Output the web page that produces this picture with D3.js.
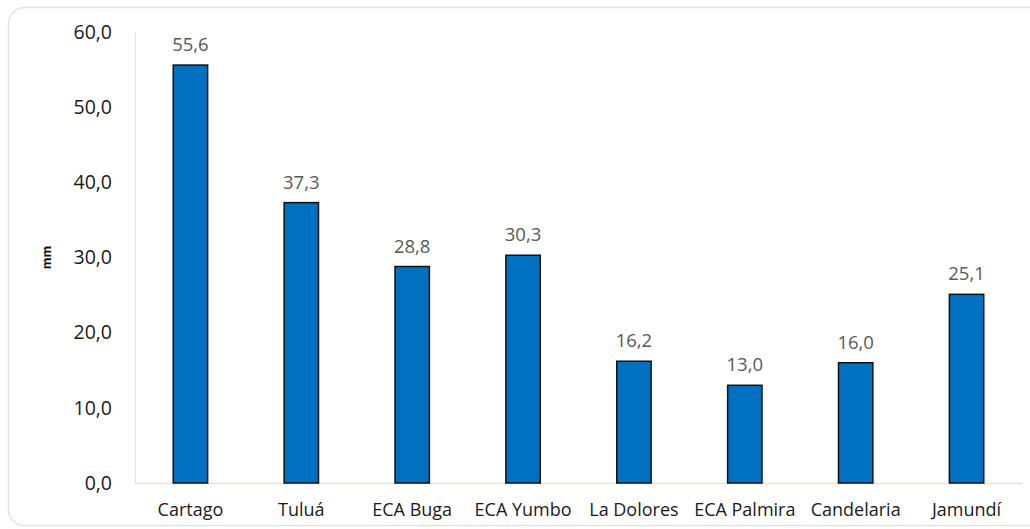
<!DOCTYPE html>
<html>
<head>
<meta charset="utf-8">
<script src="https://cdn.jsdelivr.net/npm/d3@7"></script>
<style>
  body { margin: 0; background: #fff; }
  svg { display: block; }
</style>
</head>
<body>
<script>
// data
var stations = ['Cartago', 'Tuluá', 'ECA Buga', 'ECA Yumbo', 'La Dolores', 'ECA Palmira', 'Candelaria', 'Jamundí'];
var rainfall = [55.6, 37.3, 28.8, 30.3, 16.2, 13.0, 16.0, 25.1];
var yTicks = [0, 10, 20, 30, 40, 50, 60];

var W = 1030, H = 529;
var margin = {left: 135, right: 8, top: 32, bottom: 46};

var fmt = function(v) { return v.toFixed(1).replace('.', ','); };

var svg = d3.select('body').append('svg')
  .attr('width', W)
  .attr('height', H);

// outer frame
svg.append('rect')
  .attr('x', 8.5).attr('y', 7.5)
  .attr('width', W + 10).attr('height', 518)
  .attr('rx', 16)
  .attr('fill', '#fff')
  .attr('stroke', '#e3e3e3')
  .attr('stroke-width', 1.5);

var x = d3.scaleBand()
  .domain(stations)
  .range([margin.left, W - margin.right])
  .paddingInner(0.69)
  .paddingOuter(0.345);

var y = d3.scaleLinear()
  .domain([0, 60])
  .range([H - margin.bottom, margin.top]);

// axis lines
svg.append('line')
  .attr('x1', margin.left + 0.5).attr('x2', margin.left + 0.5)
  .attr('y1', y(60)).attr('y2', y(0))
  .attr('stroke', '#e6e1d8').attr('stroke-width', 1);
svg.append('line')
  .attr('x1', margin.left).attr('x2', W - margin.right)
  .attr('y1', y(0) + 0.5).attr('y2', y(0) + 0.5)
  .attr('stroke', '#e6e1d8').attr('stroke-width', 1.5);

// y ticks
svg.selectAll('.ytick')
  .data(yTicks)
  .enter()
  .append('text')
  .attr('class', 'ytick')
  .attr('x', 112)
  .attr('y', function(d) { return y(d); })
  .attr('dy', '0.35em')
  .attr('text-anchor', 'end')
  .attr('font-family', 'Open Sans')
  .attr('font-size', 19.5)
  .attr('fill', '#1a1a1a')
  .text(fmt);

// y title
svg.append('text')
  .attr('transform', 'translate(47,' + y(30) + ') rotate(-90)')
  .attr('text-anchor', 'middle')
  .attr('dy', '0.35em')
  .attr('font-family', 'Open Sans')
  .attr('font-weight', 'bold')
  .attr('font-size', 12)
  .attr('fill', '#111')
  .text('mm');

// bars
svg.selectAll('.bar')
  .data(rainfall)
  .enter()
  .append('rect')
  .attr('class', 'bar')
  .attr('x', function(d, i) { return x(stations[i]); })
  .attr('y', function(d) { return y(d); })
  .attr('width', x.bandwidth())
  .attr('height', function(d) { return y(0) - y(d); })
  .attr('fill', '#0070c0')
  .attr('stroke', '#111')
  .attr('stroke-width', 1.5);

// value labels
svg.selectAll('.val')
  .data(rainfall)
  .enter()
  .append('text')
  .attr('class', 'val')
  .attr('x', function(d, i) { return x(stations[i]) + x.bandwidth() / 2; })
  .attr('y', function(d) { return y(d) - 14; })
  .attr('text-anchor', 'middle')
  .attr('font-family', 'Open Sans')
  .attr('font-size', 18.5)
  .attr('fill', '#595959')
  .text(fmt);

// category labels
svg.selectAll('.cat')
  .data(stations)
  .enter()
  .append('text')
  .attr('class', 'cat')
  .attr('x', function(d) { return x(d) + x.bandwidth() / 2; })
  .attr('y', y(0) + 33)
  .attr('text-anchor', 'middle')
  .attr('font-family', 'Open Sans')
  .attr('font-size', 18)
  .attr('fill', '#1a1a1a')
  .text(function(d) { return d; });
</script>
</body>
</html>
